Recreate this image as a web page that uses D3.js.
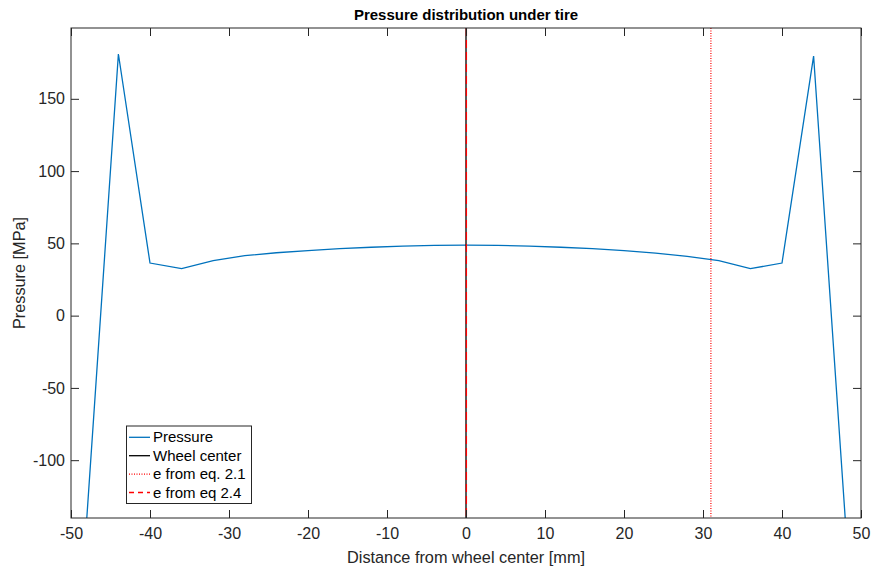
<!DOCTYPE html>
<html><head><meta charset="utf-8">
<script src="https://cdn.jsdelivr.net/npm/d3@7"></script>
<style>body{margin:0;background:#fff;font-family:"Liberation Sans",Arial,Helvetica,sans-serif;}</style>
</head><body>
<svg id="c" width="873" height="571"></svg>
<script>
const distances = [-48,-44,-40,-36,-32,-28,-24,-20,-16,-12,-8,-4,0,4,8,12,16,20,24,28,32,36,40,44,48];
const pressures = [-140,181,36.4,32.5,38,41.5,43.5,45,46.3,47.3,48.1,48.6,48.8,48.6,48.1,47.3,46.4,45,43.3,41,38,32.5,36.4,179.6,-140];
const wheelCenter = 0;
const eq21 = 31.0;
const eq24 = 0.05;
const xTicks = [-50,-40,-30,-20,-10,0,10,20,30,40,50];
const yTicks = [-100,-50,0,50,100,150];
const legendLabels = ["Pressure","Wheel center","e from eq. 2.1","e from eq 2.4"];

const svg = d3.select("#c");
const L=71,R=861,T=28,B=518;
const x = d3.scaleLinear().domain([-50,50]).range([L,R]);
const y = d3.scaleLinear().domain([-140,199]).range([B,T]);
const axisCol="#262626";
const fmt = d => String(d);

svg.append("defs").append("clipPath").attr("id","clip").append("rect")
  .attr("x",L).attr("y",T).attr("width",R-L).attr("height",B-T);

const g = svg.append("g").attr("clip-path","url(#clip)");
g.append("path").datum(distances.map((d,i)=>[d,pressures[i]]))
  .attr("d", d3.line().x(d=>x(d[0])).y(d=>y(d[1])))
  .attr("fill","none").attr("stroke","#0072BD").attr("stroke-width",1.3);
g.append("line").attr("x1",x(wheelCenter)).attr("x2",x(wheelCenter)).attr("y1",T).attr("y2",B)
  .attr("stroke","#000").attr("stroke-width",1.3);
g.append("line").attr("x1",x(eq21)).attr("x2",x(eq21)).attr("y1",T).attr("y2",B)
  .attr("stroke","#FF0000").attr("stroke-width",1.2).attr("stroke-dasharray","1,1.5");
g.append("line").attr("x1",x(eq24)).attr("x2",x(eq24)).attr("y1",T).attr("y2",B)
  .attr("stroke","#FF0000").attr("stroke-width",1.3).attr("stroke-dasharray","8,4");

function styleAxis(sel){
  sel.selectAll("path").remove();
  sel.selectAll("line").attr("stroke",axisCol);
  sel.selectAll("text").attr("fill",axisCol).style("font-size","16px").style("font-family","'Liberation Sans',Arial,sans-serif");
}
svg.append("g").attr("transform",`translate(0,${B})`)
  .call(d3.axisBottom(x).tickValues(xTicks).tickSize(-8).tickPadding(10).tickFormat(fmt))
  .call(styleAxis);
svg.append("g").attr("transform",`translate(0,${T})`)
  .call(d3.axisTop(x).tickValues(xTicks).tickSize(-8).tickFormat(""))
  .call(styleAxis);
svg.append("g").attr("transform",`translate(${L},0)`)
  .call(d3.axisLeft(y).tickValues(yTicks).tickSize(-8).tickPadding(6).tickFormat(fmt))
  .call(styleAxis);
svg.append("g").attr("transform",`translate(${R},0)`)
  .call(d3.axisRight(y).tickValues(yTicks).tickSize(-8).tickFormat(""))
  .call(styleAxis);
svg.append("rect").attr("x",L).attr("y",T).attr("width",R-L).attr("height",B-T)
  .attr("fill","none").attr("stroke",axisCol).attr("stroke-width",1);

svg.append("text").attr("x",(L+R)/2).attr("y",20).attr("text-anchor","middle")
  .style("font-size","15px").style("font-weight","bold").attr("fill","#000").text("Pressure distribution under tire");
svg.append("text").attr("x",(L+R)/2).attr("y",563).attr("text-anchor","middle")
  .style("font-size","16.3px").attr("fill",axisCol).text("Distance from wheel center [mm]");
svg.append("text").attr("transform",`translate(25,${(T+B)/2}) rotate(-90)`).attr("text-anchor","middle")
  .style("font-size","16.3px").attr("fill",axisCol).text("Pressure [MPa]");

const lg = svg.append("g");
lg.append("rect").attr("x",126.5).attr("y",426).attr("width",125).attr("height",77.5)
  .attr("fill","#fff").attr("stroke",axisCol).attr("stroke-width",1);
const lstyles=[{c:"#0072BD",d:null},{c:"#000",d:null},{c:"#FF0000",d:"1,1.5"},{c:"#FF0000",d:"5,4"}];
legendLabels.forEach((t,i)=>{
  const yy=437.3+i*18.4;
  lg.append("line").attr("x1",129).attr("x2",150).attr("y1",yy).attr("y2",yy)
    .attr("stroke",lstyles[i].c).attr("stroke-width",1.3).attr("stroke-dasharray",lstyles[i].d);
  lg.append("text").attr("x",153).attr("y",yy+5).style("font-size","15px").attr("fill","#000").text(t);
});
</script>
</body></html>
